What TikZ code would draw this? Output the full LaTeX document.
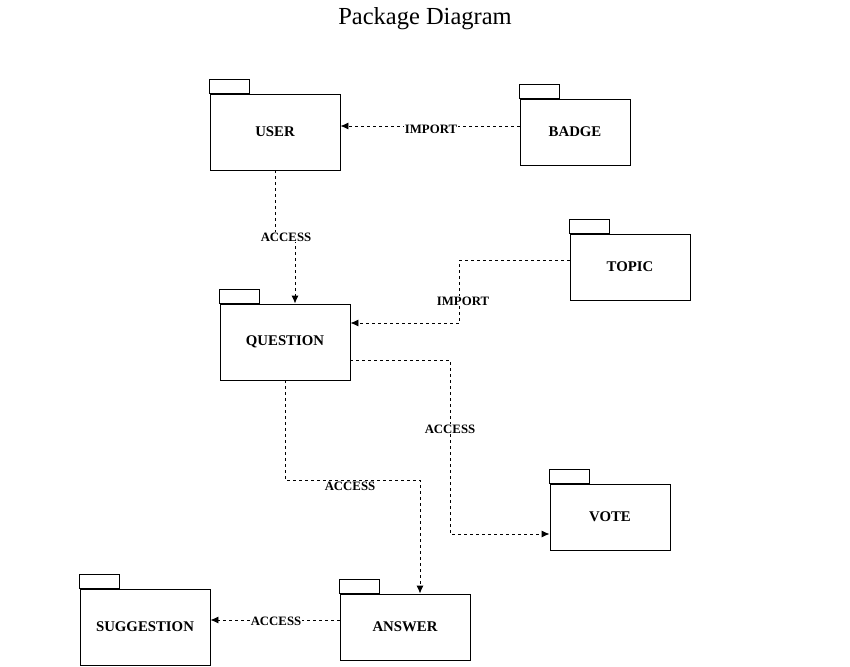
\documentclass[tikz,border=0pt]{standalone}
\usepackage{fontspec}
\setmainfont{Liberation Serif}
\usetikzlibrary{arrows.meta}
\begin{document}
\begin{tikzpicture}[x=1pt,y=-1pt,
  pkgbody/.style={draw, line width=0.9pt, fill=white, rectangle, inner sep=0pt,
    font=\fontsize{14.8}{16}\selectfont\bfseries},
  dep/.style={draw, line width=0.9pt, dash pattern=on 3pt off 3pt,
    -{Latex[length=8pt,width=7pt]}},
  deplabel/.style={fill=white, inner sep=0.5pt, font=\fontsize{12.8}{14}\selectfont\bfseries},
  tabstyle/.style={draw, line width=0.9pt}
]
\useasboundingbox (0,0) rectangle (850,666);
\node[font=\fontsize{24.5}{28}\selectfont] (title) at (425,19) {Package Diagram};

% packages
\node[pkgbody, minimum width=130pt, minimum height=76pt] (user) at (275,132) {USER};
\node[pkgbody, minimum width=110pt, minimum height=66pt] (badge) at (575,132) {BADGE};
\node[pkgbody, minimum width=120pt, minimum height=66pt] (topic) at (630,267) {TOPIC};
\node[pkgbody, minimum width=130pt, minimum height=76pt] (question) at (285,342) {QUESTION};
\node[pkgbody, minimum width=120pt, minimum height=66pt] (vote) at (610,517) {VOTE};
\node[pkgbody, minimum width=130pt, minimum height=76pt] (suggestion) at (145,627) {SUGGESTION};
\node[pkgbody, minimum width=130pt, minimum height=66pt] (answer) at (405,627) {ANSWER};

% tabs
\foreach \p in {user,badge,topic,question,vote,suggestion,answer}
  \draw[tabstyle] (\p.north west) rectangle ++(40,-14);

% connectors
\draw[dep] ([yshift=6pt]badge.west) -- ([yshift=6pt]user.east);
\node[deplabel] (l1) at (431,129) {IMPORT};

\draw[dep] (user.south) -- ++(0,67) -| ([xshift=10pt]question.north);
\node[deplabel] (l2) at (286,237) {ACCESS};

\draw[dep] ([yshift=7pt]topic.west) -- ++(-110,0) |- ([yshift=19pt]question.east);
\node[deplabel] (l3) at (463,301) {IMPORT};

\draw[dep] ([yshift=-18pt]question.east) -- ++(100,0) |- ([yshift=-17pt]vote.west);
\node[deplabel] (l4) at (450,429) {ACCESS};

\draw[dep] (question.south) -- ++(0,100) -| ([xshift=15pt]answer.north);
\node[deplabel] (l5) at (350,486) {ACCESS};

\draw[dep] ([yshift=7pt]answer.west) -- ([yshift=7pt]suggestion.east);
\node[deplabel] (l6) at (276,621) {ACCESS};
\end{tikzpicture}
\end{document}
